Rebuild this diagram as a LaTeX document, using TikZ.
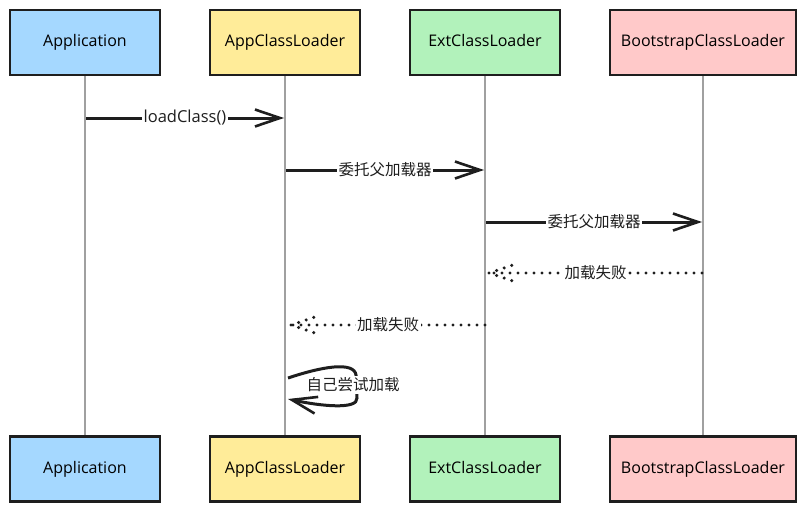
\documentclass[tikz,border=0pt]{standalone}
\usepackage{fontspec}
\setmainfont{Open Sans}
\newfontfamily\cjk{Noto Sans CJK SC}
\usetikzlibrary{arrows.meta}
\definecolor{cblue}{HTML}{A5D8FF}
\definecolor{cyellow}{HTML}{FFEC99}
\definecolor{cgreen}{HTML}{B2F2BB}
\definecolor{cpink}{HTML}{FFC9C9}
\definecolor{ink}{HTML}{1E1E1E}
\definecolor{life}{HTML}{A0A0A0}
\tikzset{
  actor/.style={draw=ink, line width=2.6pt, minimum height=65pt, inner sep=0pt, text height=11.5pt, text depth=3.5pt, font=\fontsize{16}{18}\selectfont},
  lifeline/.style={draw=life, line width=1.4pt},
  msg/.style={draw=ink, line width=3pt, -{Straight Barb[length=25pt,width=17pt,line width=2.6pt]}},
  ret/.style={draw=ink, line width=3.4pt, line cap=round, dash pattern=on 0pt off 8pt},
  lbl/.style={fill=white, inner sep=1.5pt, font=\cjk\fontsize{15.5}{17}\selectfont, text=ink},
}
\begin{document}
\begin{tikzpicture}[x=1pt,y=-1pt]
\useasboundingbox (0,0) rectangle (806,512);
% top actors
\node[actor, fill=cblue, minimum width=150pt] (a1) at (85,42.5) {Application};
\node[actor, fill=cyellow, minimum width=150pt] (b1) at (285,42.5) {AppClassLoader};
\node[actor, fill=cgreen, minimum width=150pt] (c1) at (485,42.5) {ExtClassLoader};
\node[actor, fill=cpink, minimum width=186pt] (d1) at (703,42.5) {BootstrapClassLoader};
% bottom actors
\node[actor, fill=cblue, minimum width=150pt] (a2) at (85,469) {Application};
\node[actor, fill=cyellow, minimum width=150pt] (b2) at (285,469) {AppClassLoader};
\node[actor, fill=cgreen, minimum width=150pt] (c2) at (485,469) {ExtClassLoader};
\node[actor, fill=cpink, minimum width=186pt] (d2) at (703,469) {BootstrapClassLoader};
% lifelines
\path[lifeline] (a1.south) -- (a2.north);
\path[lifeline] (b1.south) -- (b2.north);
\path[lifeline] (c1.south) -- (c2.north);
\path[lifeline] (d1.south) -- (d2.north);
% message points
\coordinate (m1a) at (86,118);  \coordinate (m1b) at (284,118);
\coordinate (m2a) at (286,170); \coordinate (m2b) at (484,170);
\coordinate (m3a) at (486,222); \coordinate (m3b) at (702,222);
\coordinate (m4a) at (702,273); \coordinate (m4b) at (489,273);
\coordinate (m5a) at (485,325); \coordinate (m5b) at (291,325);
% messages
\draw[msg] (m1a) -- node[lbl, font=\fontsize{16.5}{18}\selectfont] {loadClass()} (m1b);
\draw[msg] (m2a) -- node[lbl] {委托父加载器} (m2b);
\draw[msg] (m3a) -- node[lbl] {委托父加载器} (m3b);
\draw[ret] (m4a) -- node[lbl] {加载失败} (m4b);
\draw[ret] (m4b) -- ++(24,-8) (m4b) -- ++(24,8);
\draw[ret] (m5a) -- node[lbl] {加载失败} (m5b);
\draw[ret] (m5b) -- ++(24,-8) (m5b) -- ++(24,8);
% self call
\coordinate (s1) at (288,378);
\coordinate (s2) at (288,399);
\draw[msg] (s1) .. controls (330,364) and (358,362) .. (356,378)
  -- (357,398) .. controls (358,410) and (320,406) .. (s2);
\node[lbl] (self) at (353,385) {自己尝试加载};
\end{tikzpicture}
\end{document}
